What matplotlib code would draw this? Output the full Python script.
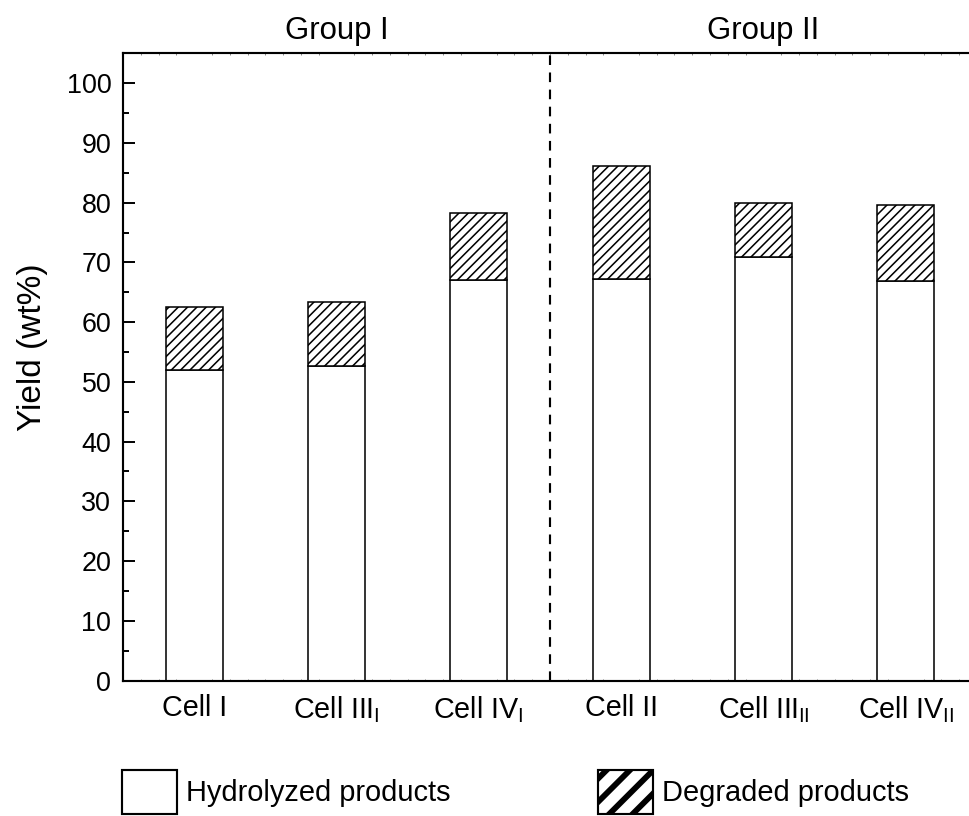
import numpy as np
import matplotlib
matplotlib.use("Agg")
import matplotlib.pyplot as plt
from matplotlib.patches import Patch
from matplotlib.ticker import MultipleLocator

plt.rcParams["font.family"] = ["Liberation Sans", "DejaVu Sans"]
plt.rcParams["mathtext.fontset"] = "custom"
plt.rcParams["mathtext.rm"] = "Liberation Sans"
plt.rcParams["hatch.linewidth"] = 0.8

cells = ["Cell I", r"Cell III$_{\mathregular{I}}$", r"Cell IV$_{\mathregular{I}}$",
         "Cell II", r"Cell III$_{\mathregular{II}}$", r"Cell IV$_{\mathregular{II}}$"]
hydrolyzed = [52.0, 52.7, 67.0, 67.3, 70.9, 66.9]
degraded = [10.5, 10.6, 11.2, 18.8, 9.0, 12.7]
groups = ["Group I", "Group II"]

dpi = 140
fig = plt.figure(figsize=(969 / dpi, 816 / dpi), dpi=dpi)
ax = fig.add_axes([0.1269, 0.166, 0.8813, 0.7687])

x = np.arange(1, len(cells) + 1)
ax.bar(x, hydrolyzed, width=0.4, color="white", edgecolor="black", linewidth=0.8)
ax.bar(x, degraded, width=0.4, bottom=hydrolyzed, color="white", edgecolor="black",
       linewidth=0.8, hatch="/////")

# separator between the two groups
ax.axvline(3.5, color="black", linewidth=1.1, linestyle=(0, (4.5, 3.5)))

ax.set_xlim(0.5, 6.5)
ax.set_ylim(0, 105)
ax.set_xticks(x)
ax.set_xticklabels(cells, fontsize=14.8)
ax.yaxis.set_major_locator(MultipleLocator(10))
ax.yaxis.set_minor_locator(MultipleLocator(5))
ax.xaxis.set_minor_locator(MultipleLocator(0.125))
ax.tick_params(axis="y", which="major", direction="in", length=6.2, width=1.0, labelsize=13.8, pad=6)
ax.tick_params(axis="y", which="minor", direction="in", length=3.0, width=1.0)
ax.tick_params(axis="x", which="major", length=0, pad=7)
ax.tick_params(axis="x", which="minor", direction="in", length=1.2, width=0.5,
               color="#888888", top=True)
for s in ["left", "top", "bottom"]:
    ax.spines[s].set_linewidth(1.1)
ax.spines["right"].set_visible(False)

ax.set_ylabel("Yield (wt%)", fontsize=17.2)
ax.yaxis.set_label_coords(-0.088, 0.531)

for gi, name in enumerate(groups):
    ax.text((0.5 + 3.5) / 2 + 3 * gi, 1.036, name, transform=ax.get_xaxis_transform(),
            ha="center", va="center", fontsize=16)

h1 = Patch(facecolor="white", edgecolor="black", linewidth=1.1)
h2 = Patch(facecolor="white", edgecolor="black", linewidth=1.1, hatch="//")
leg = fig.legend([h1, h2], ["Hydrolyzed products", "Degraded products"], loc="lower left",
                 bbox_to_anchor=(122 / 969, 2 / 816), ncol=2, frameon=False, fontsize=14.9,
                 handlelength=1.9, handleheight=1.95, handletextpad=0.3, columnspacing=5.1,
                 borderpad=0, borderaxespad=0)
try:
    leg.get_patches()[1].set_hatch_linewidth(3.0)
except AttributeError:
    pass

fig.savefig("out.png", dpi=dpi)
